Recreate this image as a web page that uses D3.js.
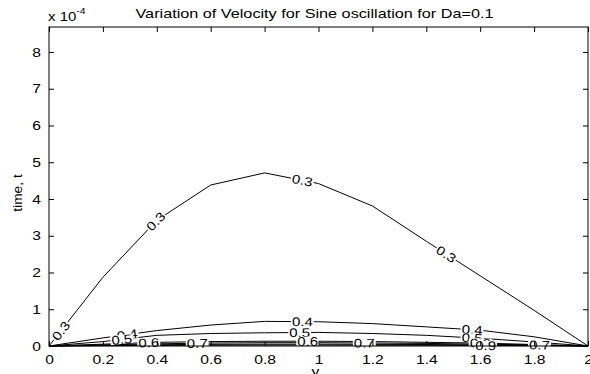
<!DOCTYPE html>
<html>
<head>
<meta charset="utf-8">
<script src="https://cdn.jsdelivr.net/npm/d3@7"></script>
<style>
  body { margin: 0; background: #fff; }
  text { font-family: "Liberation Sans", Arial, Helvetica, sans-serif; }
</style>
</head>
<body>
<div id="chart"></div>
<script>
// grid along the channel (y) and the time (x 1e-4) where each velocity level sits
const yGrid = [0, 0.2, 0.4, 0.6, 0.8, 1.0, 1.2, 1.4, 1.6, 1.8, 2.0];
const levels = [0.3, 0.4, 0.5, 0.6, 0.7, 0.8, 0.9];
const time03 = [0, 1.87, 3.42, 4.38, 4.71, 4.42, 3.81, 2.85, 1.91, 0.97, 0];
const time04 = [0, 0.22, 0.42, 0.57, 0.67, 0.66, 0.61, 0.52, 0.43, 0.25, 0];
const time05 = [0, 0.12, 0.29, 0.34, 0.36, 0.37, 0.34, 0.29, 0.21, 0.11, 0];
const time06 = [0, 0.05, 0.10, 0.12, 0.13, 0.13, 0.12, 0.10, 0.08, 0.04, 0];
const time07 = [0, 0.03, 0.06, 0.08, 0.09, 0.09, 0.08, 0.07, 0.05, 0.03, 0];
const time08 = [0, 0.02, 0.035, 0.045, 0.05, 0.05, 0.045, 0.04, 0.03, 0.02, 0];
const time09 = [0, 0.01, 0.015, 0.02, 0.025, 0.025, 0.02, 0.02, 0.015, 0.01, 0];
const times = [time03, time04, time05, time06, time07, time08, time09];

// where the inline labels sit (position along y)
const labelLevel = [0.3, 0.3, 0.3, 0.3, 0.4, 0.4, 0.4, 0.5, 0.5, 0.5, 0.6, 0.6, 0.6, 0.7, 0.7, 0.7, 0.9];
const labelAt    = [0.044, 0.396, 0.94, 1.474, 0.29, 0.94, 1.57, 0.27, 0.93, 1.57, 0.37, 0.96, 1.6, 0.55, 1.17, 1.82, 1.62];

const xTicks = [0, 0.2, 0.4, 0.6, 0.8, 1, 1.2, 1.4, 1.6, 1.8, 2];
const yTicks = [0, 1, 2, 3, 4, 5, 6, 7, 8];

var margin = { top: 27, right: 2, bottom: 28, left: 49 },
  width = 590 - margin.left - margin.right,
  height = 374 - margin.top - margin.bottom;

// the original figure's text is a little wider than the font
function stretch(sel, k) {
  sel.each(function () {
    var n = this;
    var w = n.getComputedTextLength();
    if (w > 0) d3.select(n).attr("textLength", w * k).attr("lengthAdjust", "spacingAndGlyphs");
  });
}

var svg = d3.select("#chart")
  .append("svg")
  .attr("width", 590)
  .attr("height", 374)
  .append("g")
  .attr("transform", "translate(" + margin.left + "," + margin.top + ")");

var x = d3.scaleLinear().domain([0, 2]).range([0, width]);
var y = d3.scaleLinear().domain([0, 8.68]).range([height, 0]);

// contour lines
var line = d3.line()
  .x(function (d) { return x(d[0]); })
  .y(function (d) { return y(d[1]); });

times.forEach(function (t) {
  svg.append("path")
    .attr("d", line(yGrid.map(function (g, i) { return [g, t[i]]; })))
    .attr("fill", "none")
    .attr("stroke", "#000")
    .attr("stroke-width", 1);
});

// inline labels with a white knock-out behind them
labelLevel.forEach(function (lev, k) {
  var t = times[levels.indexOf(lev)];
  var px = labelAt[k];
  var i = Math.min(Math.floor(px / 0.2), yGrid.length - 2);
  var f = (px - yGrid[i]) / 0.2;
  var ty = t[i] + f * (t[i + 1] - t[i]);
  var ang = Math.atan2(y(t[i + 1]) - y(t[i]), x(yGrid[i + 1]) - x(yGrid[i])) * 180 / Math.PI;
  var g = svg.append("g")
    .attr("transform", "translate(" + x(px) + "," + y(ty) + ") rotate(" + ang + ")");
  var txt = g.append("text")
    .attr("text-anchor", "middle")
    .attr("dy", "0.36em")
    .style("font-size", "12.5px")
    .text(String(lev));
  var w = txt.node().getComputedTextLength() * 1.2;
  stretch(txt, 1.2);
  g.insert("rect", "text")
    .attr("x", -w / 2 - 1)
    .attr("y", -4.5)
    .attr("width", w + 2)
    .attr("height", 9)
    .attr("fill", "#fff");
});

// box with inner ticks on all four sides
svg.append("rect")
  .attr("width", width)
  .attr("height", height)
  .attr("fill", "none")
  .attr("stroke", "#000");

svg.append("g")
  .attr("transform", "translate(0," + height + ")")
  .call(d3.axisBottom(x).tickValues(xTicks).tickSize(-5).tickPadding(9).tickFormat(d3.format("")));
svg.append("g")
  .call(d3.axisTop(x).tickValues(xTicks).tickSize(-5).tickFormat(""));
svg.append("g")
  .call(d3.axisLeft(y).tickValues(yTicks).tickSize(-5).tickPadding(8).tickFormat(d3.format("d")));
svg.append("g")
  .attr("transform", "translate(" + width + ",0)")
  .call(d3.axisRight(y).tickValues(yTicks).tickSize(-5).tickFormat(""));

svg.selectAll(".domain").remove();
svg.selectAll(".tick line").attr("stroke", "#000");
svg.selectAll(".tick text")
  .attr("fill", "#000")
  .style("font-size", "13px")
  .style("font-family", "'Liberation Sans', Arial, sans-serif")
  .call(stretch, 1.2);

// exponent marker
var ex = svg.append("text")
  .attr("x", -1)
  .attr("y", -6)
  .style("font-size", "13px");
ex.append("tspan").text("x 10");
ex.append("tspan").attr("dy", -7).style("font-size", "9px").text("-4");
stretch(ex, 1.15);

// title and axis labels
svg.append("text")
  .attr("x", width / 2 - 4)
  .attr("y", -9)
  .style("text-anchor", "middle")
  .style("font-size", "13px")
  .attr("textLength", 358)
  .attr("lengthAdjust", "spacingAndGlyphs")
  .text("Variation of Velocity for Sine oscillation for Da=0.1");

svg.append("text")
  .attr("x", width / 2 - 3)
  .attr("y", height + 30)
  .style("text-anchor", "middle")
  .style("font-size", "13px")
  .text("y")
  .call(stretch, 1.2);

svg.append("text")
  .attr("transform", "rotate(-90)")
  .attr("x", -166)
  .attr("y", -27)
  .style("text-anchor", "middle")
  .style("font-size", "12.5px")
  .text("time, t")
  .call(stretch, 1.1);
</script>
</body>
</html>
